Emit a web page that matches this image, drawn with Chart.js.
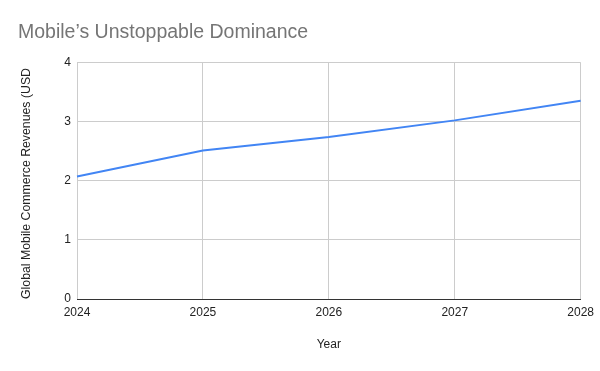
<!DOCTYPE html>
<html>
<head>
<meta charset="utf-8">
<script src="https://cdn.jsdelivr.net/npm/chart.js@4"></script>
<style>
  html, body { margin: 0; padding: 0; background: #fff; }
  #wrap { width: 600px; height: 371px; }
</style>
</head>
<body>
<div id="wrap"><canvas id="revenueChart" width="600" height="371"></canvas></div>
<script>
// data
const years = ["2024", "2025", "2026", "2027", "2028"];
const revenues = [2.07, 2.51, 2.74, 3.02, 3.35];
const yTicks = [0, 1, 2, 3, 4];

const FONT = "'Liberation Sans', Arial, sans-serif";

const ctx = document.getElementById("revenueChart").getContext("2d");

new Chart(ctx, {
    type: "line",
    data: {
        labels: years,
        datasets: [{
            label: "Global Mobile Commerce Revenues (USD",
            data: revenues,
            borderColor: "#4285F4",
            backgroundColor: "#4285F4",
            borderWidth: 2,
            pointRadius: 0,
            tension: 0
        }]
    },
    options: {
        responsive: false,
        animation: false,
        layout: { padding: { left: 18, right: 19, top: 0, bottom: 0 } },
        plugins: {
            legend: { display: false },
            tooltip: { enabled: false },
            title: {
                display: true,
                text: "Mobile\u2019s Unstoppable Dominance",
                align: "start",
                color: "#757575",
                font: { family: FONT, size: 19.5, weight: "normal" },
                padding: { top: 20.6, bottom: 18.4 }
            }
        },
        scales: {
            x: {
                offset: false,
                grid: { color: "#cccccc", drawTicks: false },
                border: { color: "#333333", width: 1 },
                ticks: {
                    color: "#222222",
                    font: { family: FONT, size: 12 },
                    padding: 6,
                    maxRotation: 0
                },
                title: {
                    display: true,
                    text: "Year",
                    color: "#222222",
                    font: { family: FONT, size: 12 },
                    padding: { top: 0, bottom: 19 }
                },
                afterFit: scale => { scale.height = 72; }
            },
            y: {
                min: 0,
                max: 4,
                afterBuildTicks: scale => { scale.ticks = yTicks.map(v => ({ value: v })); },
                grid: { color: "#cccccc", drawTicks: false },
                border: { display: false },
                ticks: {
                    color: "#222222",
                    font: { family: FONT, size: 12 },
                    padding: 6
                },
                title: {
                    display: true,
                    text: "Global Mobile Commerce Revenues (USD",
                    align: "start",
                    color: "#222222",
                    font: { family: FONT, size: 12.3 },
                    padding: { top: 1, bottom: 0 }
                },
                afterFit: scale => { scale.width = 59; }
            }
        }
    }
});
</script>
</body>
</html>
